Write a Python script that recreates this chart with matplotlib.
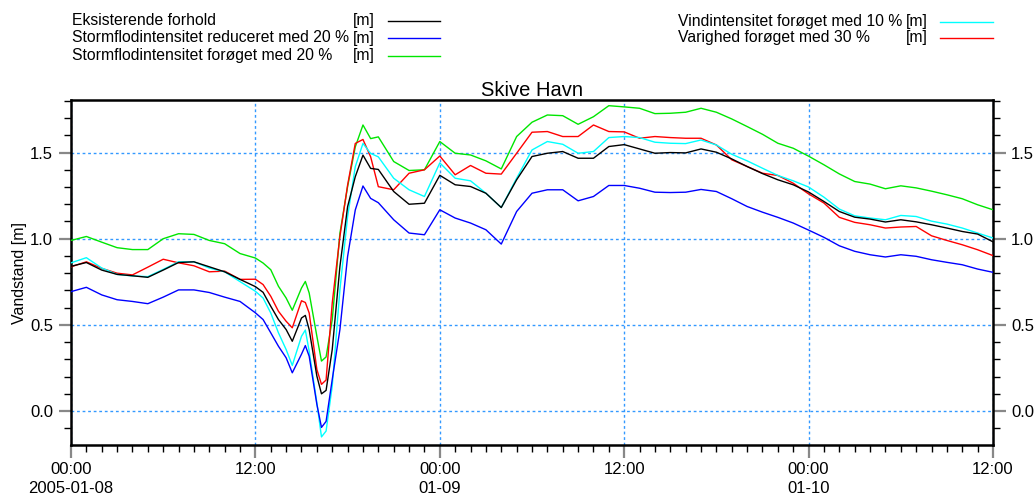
import numpy as np
import pandas as pd
import matplotlib
matplotlib.use("Agg")
import matplotlib.pyplot as plt
import matplotlib.dates as mdates
from matplotlib.lines import Line2D
from matplotlib.ticker import FixedLocator, MultipleLocator

plt.rcParams['font.family'] = ['Liberation Sans', 'DejaVu Sans']

# ---- data (hours after 2005-01-08 00:00) ----
hours = [0, 1, 2, 3, 4, 5, 6, 7, 8, 9, 10, 11,
         12, 12.5, 13, 13.5, 14, 14.4, 15, 15.25, 15.5, 16, 16.3, 16.6, 17, 17.5, 18, 18.5, 19, 19.5,
         20, 21, 22, 23, 24, 25, 26, 27, 28, 29, 30, 31, 32, 33, 34, 35, 36, 37, 38, 39, 40,
         41, 42, 43, 44, 45, 46, 47, 48, 49, 50, 51, 52, 53, 54, 55, 56, 57, 58, 59, 60]

eksisterende = [0.84, 0.862, 0.818, 0.793, 0.785, 0.776, 0.818, 0.862, 0.866, 0.837, 0.808, 0.764,
                0.722, 0.689, 0.608, 0.531, 0.473, 0.405, 0.54, 0.555, 0.472, 0.203, 0.10, 0.12, 0.357, 0.839, 1.186, 1.36, 1.485, 1.408,
                1.402, 1.274, 1.20, 1.206, 1.368, 1.313, 1.303, 1.264, 1.181, 1.342, 1.477, 1.496, 1.506, 1.467, 1.467, 1.535, 1.546, 1.521, 1.496, 1.5, 1.498,
                1.521, 1.502, 1.463, 1.419, 1.378, 1.342, 1.313, 1.271, 1.216, 1.158, 1.125, 1.114, 1.097, 1.11, 1.098, 1.081, 1.062, 1.042, 1.027, 0.982]

storm_reduceret = [0.693, 0.718, 0.674, 0.646, 0.636, 0.623, 0.661, 0.703, 0.703, 0.688, 0.661, 0.636,
                   0.57, 0.531, 0.454, 0.376, 0.309, 0.222, 0.33, 0.38, 0.318, 0.039, -0.095, -0.06, 0.183, 0.473, 0.897, 1.167, 1.306, 1.234,
                   1.209, 1.11, 1.033, 1.023, 1.168, 1.12, 1.091, 1.052, 0.969, 1.158, 1.264, 1.284, 1.284, 1.22, 1.245, 1.309, 1.309, 1.293, 1.27, 1.268, 1.27,
                   1.286, 1.274, 1.232, 1.187, 1.154, 1.124, 1.091, 1.05, 1.008, 0.959, 0.927, 0.907, 0.894, 0.907, 0.898, 0.878, 0.863, 0.849, 0.824, 0.805]

storm_foroeget = [0.99, 1.013, 0.98, 0.948, 0.937, 0.937, 1.0, 1.029, 1.025, 0.99, 0.971, 0.914,
                  0.888, 0.859, 0.82, 0.724, 0.656, 0.585, 0.714, 0.752, 0.685, 0.434, 0.29, 0.314, 0.53, 1.032, 1.302, 1.533, 1.66, 1.581,
                  1.591, 1.448, 1.396, 1.40, 1.564, 1.496, 1.486, 1.452, 1.405, 1.593, 1.676, 1.718, 1.714, 1.664, 1.708, 1.772, 1.765, 1.757, 1.726, 1.728, 1.734,
                  1.757, 1.734, 1.695, 1.651, 1.606, 1.554, 1.525, 1.479, 1.429, 1.376, 1.332, 1.317, 1.29, 1.307, 1.295, 1.276, 1.255, 1.232, 1.197, 1.168]

vind_foroeget = [0.86, 0.89, 0.83, 0.793, 0.784, 0.78, 0.822, 0.866, 0.866, 0.83, 0.808, 0.751,
                 0.695, 0.656, 0.569, 0.454, 0.357, 0.265, 0.434, 0.47, 0.347, 0.048, -0.15, -0.116, 0.145, 0.704, 1.128, 1.418, 1.553, 1.495,
                 1.475, 1.351, 1.284, 1.245, 1.44, 1.351, 1.336, 1.264, 1.181, 1.351, 1.515, 1.564, 1.548, 1.496, 1.506, 1.587, 1.593, 1.587, 1.56, 1.554, 1.552,
                 1.573, 1.544, 1.49, 1.452, 1.409, 1.367, 1.336, 1.30, 1.241, 1.172, 1.133, 1.12, 1.11, 1.135, 1.129, 1.102, 1.085, 1.062, 1.033, 1.004]

varighed_foroeget = [0.837, 0.866, 0.828, 0.80, 0.79, 0.835, 0.881, 0.86, 0.843, 0.808, 0.812, 0.764,
                     0.765, 0.734, 0.666, 0.579, 0.521, 0.483, 0.64, 0.63, 0.569, 0.241, 0.155, 0.18, 0.627, 1.013, 1.311, 1.553, 1.576, 1.475,
                     1.302, 1.284, 1.38, 1.40, 1.48, 1.371, 1.425, 1.38, 1.375, 1.496, 1.618, 1.622, 1.593, 1.593, 1.66, 1.622, 1.62, 1.583, 1.593, 1.587, 1.583,
                     1.583, 1.544, 1.458, 1.419, 1.38, 1.367, 1.322, 1.26, 1.207, 1.124, 1.095, 1.081, 1.062, 1.068, 1.071, 1.017, 0.99, 0.965, 0.936, 0.902]

series_labels = ["Eksisterende forhold",
                 "Stormflodintensitet reduceret med 20 %",
                 "Stormflodintensitet forøget med 20 %",
                 "Vindintensitet forøget med 10 %",
                 "Varighed forøget med 30 %"]
series_units = ["[m]", "[m]", "[m]", "[m]", "[m]"]
series_colors = ["#000000", "#0000ff", "#00e600", "#00ffff", "#ff0000"]

xtick_labels = ["00:00\n2005-01-08", "12:00", "00:00\n01-09", "12:00", "00:00\n01-10", "12:00"]
yticks = [0.0, 0.5, 1.0, 1.5]
ytick_labels = ["0.0", "0.5", "1.0", "1.5"]
title = "Skive Havn"
ylabel = "Vandstand [m]"

# ---- figure ----
W, H = 1036, 499
fig = plt.figure(figsize=(W / 100, H / 100), dpi=100)
ax = fig.add_axes([71 / W, 1 - 445 / H, (993 - 71) / W, (445 - 100) / H])

start = pd.Timestamp("2005-01-08 00:00")
times = start + pd.to_timedelta(hours, unit="h")
all_series = [eksisterende, storm_reduceret, storm_foroeget, vind_foroeget, varighed_foroeget]

for idx in [2, 4, 3, 0, 1]:
    ax.plot(times, all_series[idx], color=series_colors[idx], lw=1.0, zorder=3)

x0 = mdates.date2num(start)
ax.set_xlim(x0, x0 + 60 / 24)
ax.set_ylim(-0.197, 1.805)

major_x = [x0 + k * 0.5 for k in range(len(xtick_labels))]
ax.xaxis.set_major_locator(FixedLocator(major_x))
ax.set_xticklabels(xtick_labels)
ax.xaxis.set_minor_locator(FixedLocator([x0 + k / 24 for k in range(61)]))
for lab in ax.get_xticklabels():
    lab.set_linespacing(1.4)

ax.set_yticks(yticks)
ax.set_yticklabels(ytick_labels)
ax.yaxis.set_minor_locator(MultipleLocator(0.1))

ax.grid(True, which='major', color='#3399ff', linestyle=(0, (2, 2)), lw=1.0, zorder=1)

ax.tick_params(axis='both', which='major', direction='out', length=9, width=1.6,
               color='#888888', labelsize=12, pad=4)
ax.tick_params(axis='both', which='minor', direction='out', length=5, width=1.0, color='black')
ax.tick_params(axis='y', which='both', left=True, right=True, labelleft=True, labelright=True)
ax.tick_params(axis='x', which='both', top=False, bottom=True)
ax.tick_params(axis='x', which='major', pad=3)

for s in ax.spines.values():
    s.set_linewidth(1.8)

ax.set_title(title, fontsize=14.5, pad=3)
ax.set_ylabel(ylabel, fontsize=11.5)
ax.yaxis.set_label_coords(-0.048, 0.5)

# ---- legend (two columns above plot) ----
def fy(ypx):
    return 1 - ypx / H

legend_layout = [  # text x, unit x, line x0, line x1, y
    (72, 353, 388, 440, 20.5),
    (72, 353, 388, 440, 38.0),
    (72, 353, 388, 440, 55.5),
    (678, 906, 940, 993, 21.5),
    (678, 906, 940, 993, 37.5),
]
for i, (tx, ux, lx0, lx1, ypx) in enumerate(legend_layout):
    fig.text(tx / W, fy(ypx), series_labels[i], fontsize=11.3, va='center', ha='left')
    fig.text(ux / W, fy(ypx), series_units[i], fontsize=11.3, va='center', ha='left')
    fig.add_artist(Line2D([lx0 / W, lx1 / W], [fy(ypx), fy(ypx)], transform=fig.transFigure,
                          color=series_colors[i], lw=1.0))

fig.savefig("out.png", dpi=100)
